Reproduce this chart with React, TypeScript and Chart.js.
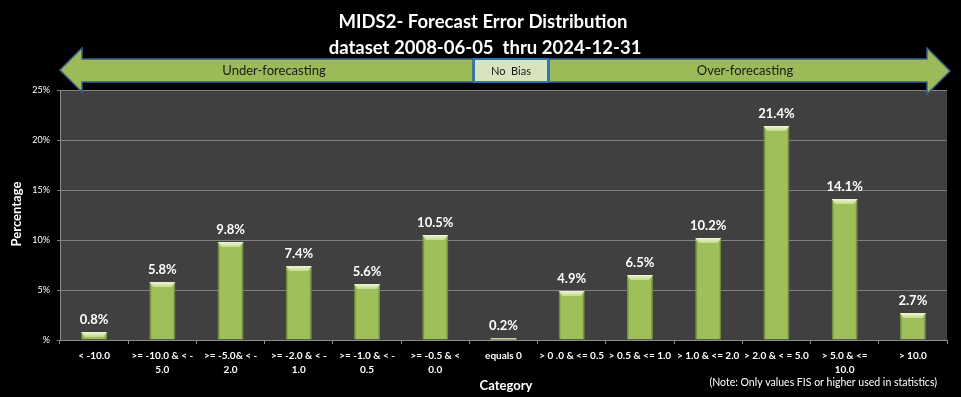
import React, { useEffect, useRef } from "react";
import { Chart, registerables } from "chart.js";

Chart.register(...registerables);

const categories: (string | string[])[] = [
  ["< -10.0"],
  [">= -10.0 & < -", "5.0"],
  [">= -5.0& < -", "2.0"],
  [">= -2.0 & < -", "1.0"],
  [">= -1.0 & < -", "0.5"],
  [">= -0.5 & <", "0.0"],
  ["equals 0"],
  ["> 0 .0 & <= 0.5"],
  ["> 0.5 & <= 1.0"],
  ["> 1.0 & <= 2.0"],
  ["> 2.0 & < = 5.0"],
  ["> 5.0 & <=", "10.0"],
  ["> 10.0"],
];

const percentages = [0.8, 5.8, 9.8, 7.4, 5.6, 10.5, 0.2, 4.9, 6.5, 10.2, 21.4, 14.1, 2.7];

const yTickValues = [0, 5, 10, 15, 20, 25];

const titleLines = ["MIDS2- Forecast Error Distribution", "dataset 2008-06-05  thru 2024-12-31"];
const arrowLabels = ["Under-forecasting", "No  Bias", "Over-forecasting"];
const yAxisTitle = "Percentage";
const xAxisTitle = "Category";
const noteText = "(Note: Only values FIS or higher used in statistics)";

const FONT = "Lato, 'Open Sans', 'DejaVu Sans', sans-serif";

const decorPlugin = {
  id: "decor",
  beforeDraw(chart: any) {
    const { ctx, chartArea: a, width, height } = chart;
    ctx.save();
    ctx.fillStyle = "#000000";
    ctx.fillRect(0, 0, width, height);
    ctx.fillStyle = "#404040";
    ctx.fillRect(a.left, a.top, a.right - a.left, a.bottom - a.top);
    ctx.restore();
  },
  afterDatasetsDraw(chart: any) {
    const { ctx } = chart;
    const meta = chart.getDatasetMeta(0);
    ctx.save();
    meta.data.forEach((bar: any, i: number) => {
      const w = bar.width;
      const l = bar.x - w / 2;
      const r = bar.x + w / 2;
      const t = bar.y;
      const h = bar.base - bar.y;
      const bev = Math.min(5, h);
      if (h <= 3) {
        ctx.fillStyle = "#c9cfae";
        ctx.fillRect(l, t, w, h);
      } else {
        const g = ctx.createLinearGradient(0, t, 0, t + bev);
        g.addColorStop(0, "#eef5d8");
        g.addColorStop(1, "#c5da8e");
        ctx.fillStyle = g;
        ctx.beginPath();
        ctx.moveTo(l, t);
        ctx.lineTo(r, t);
        ctx.lineTo(r - 4, t + bev);
        ctx.lineTo(l + 4, t + bev);
        ctx.closePath();
        ctx.fill();
        ctx.fillStyle = "rgba(90,120,40,0.3)";
        ctx.fillRect(l, t + bev, 2, h - bev);
        ctx.fillRect(r - 2, t + bev, 2, h - bev);
      }
      ctx.fillStyle = "#ffffff";
      ctx.font = `bold 13px ${FONT}`;
      ctx.textAlign = "center";
      ctx.textBaseline = "alphabetic";
      ctx.fillText(percentages[i].toFixed(1) + "%", bar.x, t - 8);
    });
    ctx.restore();
  },
  afterDraw(chart: any) {
    const { ctx } = chart;
    ctx.save();
    ctx.fillStyle = "#ffffff";
    ctx.textAlign = "center";
    ctx.textBaseline = "middle";
    ctx.font = `bold 18.5px ${FONT}`;
    ctx.fillText(titleLines[0], 483, 22);
    ctx.fillText(titleLines[1], 485, 48);

    ctx.fillStyle = "#9bbb59";
    ctx.strokeStyle = "#3a5f8b";
    ctx.lineWidth = 1.5;
    ctx.beginPath();
    ctx.moveTo(60, 70);
    ctx.lineTo(82, 48);
    ctx.lineTo(82, 59);
    ctx.lineTo(473, 59);
    ctx.lineTo(473, 82);
    ctx.lineTo(82, 82);
    ctx.lineTo(82, 92);
    ctx.closePath();
    ctx.fill();
    ctx.stroke();

    ctx.beginPath();
    ctx.moveTo(549, 59);
    ctx.lineTo(927, 59);
    ctx.lineTo(927, 48);
    ctx.lineTo(950, 71);
    ctx.lineTo(927, 94);
    ctx.lineTo(927, 82);
    ctx.lineTo(549, 82);
    ctx.closePath();
    ctx.fill();
    ctx.stroke();

    ctx.fillStyle = "#d7e4bd";
    ctx.fillRect(474, 59, 74, 23);
    ctx.strokeStyle = "#2e75b6";
    ctx.lineWidth = 2;
    ctx.strokeRect(474, 59, 74, 23);

    ctx.fillStyle = "#1a1a1a";
    ctx.font = `13px ${FONT}`;
    ctx.fillText(arrowLabels[0], 274, 71);
    ctx.fillText(arrowLabels[2], 745, 71);
    ctx.font = `11px ${FONT}`;
    ctx.fillText(arrowLabels[1], 511, 71);

    ctx.fillStyle = "#ffffff";
    ctx.font = `bold 13px ${FONT}`;
    ctx.fillText(xAxisTitle, 506, 386);
    ctx.save();
    ctx.translate(17, 214);
    ctx.rotate(-Math.PI / 2);
    ctx.fillText(yAxisTitle, 0, 0);
    ctx.restore();

    ctx.font = `10.5px ${FONT}`;
    ctx.textAlign = "right";
    ctx.fillText(noteText, 937, 383);
    ctx.restore();
  },
};

export default function App() {
  const ref = useRef<HTMLCanvasElement | null>(null);
  useEffect(() => {
    document.body.style.margin = "0";
    document.body.style.background = "#000";
    const canvas = ref.current!;
    const chart = new Chart(canvas, {
      type: "bar",
      data: {
        labels: categories,
        datasets: [
          {
            data: percentages,
            backgroundColor: "#9fbf5b",
            borderColor: "#7d9a45",
            borderWidth: 1,
            categoryPercentage: 1,
            barPercentage: 0.38,
          },
        ],
      },
      options: {
        responsive: false,
        animation: false,
        devicePixelRatio: 1,
        layout: { padding: { left: 0, top: 90, right: 14, bottom: 0 } },
        plugins: {
          legend: { display: false },
          title: { display: false },
          tooltip: { enabled: false },
        },
        scales: {
          x: {
            grid: {
              drawOnChartArea: false,
              drawTicks: true,
              tickLength: 4,
              color: "#8c8c8c",
              offset: true,
            },
            border: { color: "#8c8c8c" },
            ticks: {
              autoSkip: false,
              maxRotation: 0,
              minRotation: 0,
              padding: 5,
              color: "#ffffff",
              font: { family: FONT, size: 10, weight: "bold", lineHeight: 1.4 },
            },
            afterFit(scale: any) {
              scale.height = 57;
            },
          },
          y: {
            min: 0,
            max: 25,
            afterBuildTicks(scale: any) {
              scale.ticks = yTickValues.map((v) => ({ value: v }));
            },
            grid: {
              color: "#808080",
              tickLength: 3,
              drawTicks: true,
            },
            border: { color: "#8c8c8c" },
            ticks: {
              padding: 7,
              color: "#ffffff",
              font: { family: FONT, size: 9 },
              callback: (v: any) => (v === 0 ? "%" : v + "%"),
            },
            afterFit(scale: any) {
              scale.width = 60;
            },
          },
        },
      },
      plugins: [decorPlugin],
    });
    return () => chart.destroy();
  }, []);
  return (
    <div style={{ width: 961, height: 397, background: "#000" }}>
      <canvas ref={ref} width={961} height={397} style={{ display: "block" }} />
    </div>
  );
}
